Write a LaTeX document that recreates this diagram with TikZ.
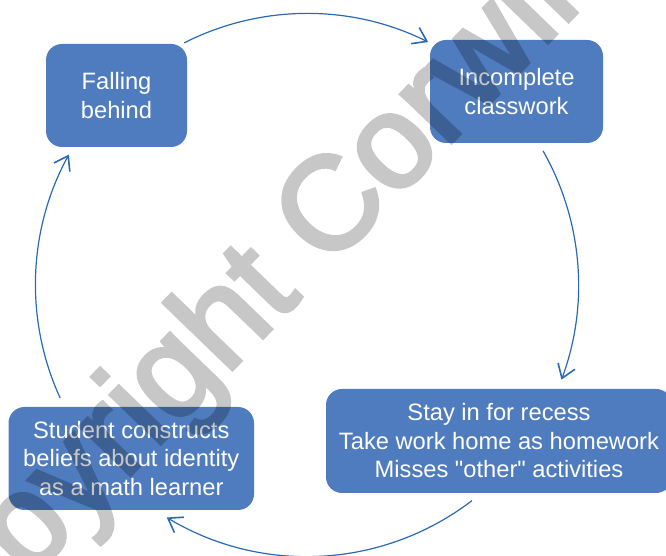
\documentclass[tikz,border=0pt]{standalone}
\usepackage{fontspec}
\setmainfont{Liberation Sans}
% same family without TeX ligatures, so that " stays a straight quote
\newfontfamily\plainsans{Liberation Sans}
% heavier strokes for the watermark lettering
\newfontfamily\wmfont{Liberation Sans}[FakeBold=3]
\usetikzlibrary{arrows.meta}
\definecolor{boxblue}{RGB}{79,124,190}
\definecolor{arcblue}{RGB}{41,105,182}
\begin{document}
\begin{tikzpicture}[x=1pt,y=1pt,
  stage/.style={fill=boxblue, draw=none, rounded corners=16pt, text=white,
    align=center, inner sep=0pt, font=\plainsans\fontsize{23.7}{28.5}\selectfont},
  cyc/.style={draw=arcblue, line width=1.2pt,
    -{Straight Barb[length=13pt,width=18pt,line width=1.6pt]}},
  watermark/.style={rotate=46, anchor=base, text=black,
    font=\wmfont\fontsize{132}{132}\selectfont}]
\useasboundingbox (0,0) rectangle (666,556);

% the four stages of the cycle
\node[stage, minimum width=141pt, minimum height=103pt] (fall) at (116.5,460.5) {Falling\\behind};
\node[stage, minimum width=173pt, minimum height=103pt] (incomp) at (516.5,464.5) {Incomplete\\classwork};
\node[stage, minimum width=346pt, minimum height=104pt] (recess) at (499,115) {Stay in for recess\\Take work home as homework\\Misses "other" activities};
\node[stage, minimum width=245.5pt, minimum height=103pt] (belief) at (131.25,97.5) {Student constructs\\beliefs about identity\\as a math learner};

% circular connectors between the stages
\coordinate (ctr) at (307,271);
\path (ctr) ++(116.9:271.5) coordinate (a1);
\path (ctr) ++(29.6:271.5) coordinate (a2);
\path (ctr) ++(-52.6:271.5) coordinate (a3);
\path (ctr) ++(-155.4:271.5) coordinate (a4);
\draw[cyc] (a1) arc[start angle=116.9, end angle=63.5, radius=271.5];
\draw[cyc] (a2) arc[start angle=29.6, end angle=-20.4, radius=271.5];
\draw[cyc] (a3) arc[start angle=-52.6, end angle=-121.1, radius=271.5];
\draw[cyc] (a4) arc[start angle=-155.4, end angle=-208.7, radius=271.5];

% watermark, faded as one group so the letter outlines do not double up
\begin{scope}[transparency group, opacity=0.22]
  \node[watermark] (wm) at (261.8,217.2) {Copyright Corwin};
\end{scope}
\end{tikzpicture}
\end{document}
